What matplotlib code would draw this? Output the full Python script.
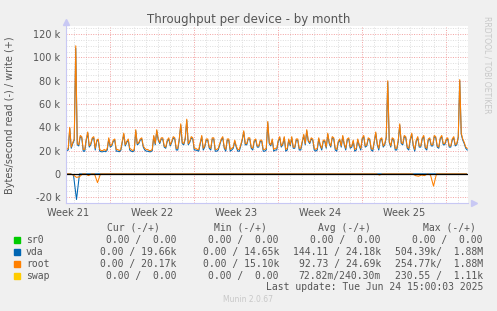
import pandas as pd
import matplotlib
matplotlib.use("Agg")
import matplotlib.pyplot as plt
import matplotlib.dates as mdates
from matplotlib.ticker import MultipleLocator, FuncFormatter
from matplotlib.transforms import blended_transform_factory

# Throughput samples, values in kB/s
start = "2025-05-22 08:00"
end = "2025-06-24 20:00"

# write side, 3-hour steps (8 per day)
root_write = [
    21, 22, 40, 23, 27, 30, 110, 26,  25, 33, 32, 21, 21, 30, 36, 24,
    26, 31, 32, 22, 29, 30, 21, 20,  20, 21, 20, 22, 31, 24, 25, 29,
    30, 21, 21, 20, 21, 28, 35, 25,  28, 30, 22, 21, 20, 21, 38, 26,
    27, 30, 31, 24, 22, 21, 21, 20,  20, 21, 33, 26, 38, 30, 27, 31,
    31, 24, 23, 29, 31, 25, 28, 32,  31, 22, 22, 30, 43, 27, 26, 31,
    47, 26, 28, 32, 31, 22, 22, 21,  21, 27, 33, 22, 24, 30, 30, 23,
    22, 31, 31, 21, 21, 22, 26, 30,  32, 23, 21, 30, 30, 21, 22, 23,
    29, 24, 21, 21, 25, 30, 37, 26,  26, 31, 31, 23, 22, 29, 30, 24,
    24, 29, 29, 21, 21, 22, 45, 27,  25, 30, 21, 22, 22, 29, 32, 24,
    26, 32, 21, 22, 30, 25, 32, 23,  23, 30, 30, 22, 22, 28, 34, 26,
    38, 29, 27, 31, 30, 22, 21, 22,  31, 25, 22, 29, 29, 23, 35, 27,
    24, 32, 31, 22, 21, 28, 30, 24,  33, 26, 22, 30, 31, 23, 24, 29,
    21, 22, 30, 25, 22, 31, 33, 24,  25, 31, 30, 22, 21, 28, 36, 26,
    22, 30, 31, 24, 26, 32, 80, 28,  24, 31, 30, 22, 22, 29, 43, 27,
    26, 33, 32, 23, 22, 30, 35, 25,  21, 29, 32, 24, 24, 31, 33, 23,
    22, 30, 31, 25, 25, 33, 32, 24,  23, 31, 33, 26, 26, 30, 31, 24,
    24, 30, 32, 25, 26, 32, 81, 35,  30, 27, 23, 22,
]
vda_write = [
    20, 20.5, 39, 22, 26, 29, 108, 25,  24, 32, 31, 19.5, 19.5, 29, 35, 23,
    25, 30, 31, 20.5, 28, 29, 19.5, 19,  19, 19.5, 19, 20.5, 30, 23, 24, 28,
    29, 19.5, 19.5, 19, 20, 27, 34, 24,  27, 29, 20.5, 19.5, 19, 20, 37, 25,
    26, 29, 30, 23, 20.5, 19.5, 19.5, 19,  19, 20, 32, 25, 37, 29, 26, 30,
    30, 23, 22, 28, 30, 24, 27, 31,  30, 20.5, 20.5, 29, 42, 26, 25, 30,
    46, 25, 27, 31, 30, 20.5, 20.5, 20,  19.5, 26, 32, 20.5, 23, 29, 29, 22,
    20.5, 30, 30, 19.5, 19.5, 20.5, 25, 29,  31, 22, 19.5, 29, 29, 19.5, 20.5, 22,
    28, 23, 19.5, 19.5, 24, 29, 36, 25,  25, 30, 30, 22, 20.5, 28, 29, 23,
    23, 28, 28, 19.5, 19.5, 20.5, 44, 26,  24, 29, 19.5, 20.5, 20.5, 28, 31, 23,
    25, 31, 19.5, 20.5, 29, 24, 31, 22,  22, 29, 29, 20.5, 20.5, 27, 33, 25,
    37, 28, 26, 30, 29, 20.5, 19.5, 20.5,  30, 24, 20.5, 28, 28, 22, 34, 26,
    23, 31, 30, 20.5, 19.5, 27, 29, 23,  32, 25, 20.5, 29, 30, 22, 23, 28,
    19.5, 20.5, 29, 24, 20.5, 30, 32, 23,  24, 30, 29, 20.5, 19.5, 27, 35, 25,
    20.5, 29, 30, 23, 25, 31, 79, 27,  23, 30, 29, 20.5, 20.5, 28, 42, 26,
    25, 32, 31, 22, 20.5, 29, 34, 24,  19.5, 28, 31, 23, 23, 30, 32, 22,
    20.5, 29, 30, 24, 24, 32, 31, 23,  22, 30, 32, 25, 25, 29, 30, 23,
    23, 29, 31, 24, 25, 31, 80, 34,  29, 26, 22, 20.5,
]
# read side, 6-hour steps (4 per day), drawn negative
root_read = [
    0, 0, -1, -3,  -2.5, 0, 0, -1.5,  0, 0, -7.5, 0,  0, 0, 0, 0,
    0, 0, 0, 0,  0, 0, 0, 0,  0, 0, 0, 0,  0, 0, 0, 0,
    0, 0, 0, 0,  0, 0, 0, 0,  0, 0, 0, 0,  0, 0, 0, 0,
    0, 0, 0, 0,  0, 0, 0, 0,  0, 0, 0, 0,  0, 0, 0, 0,
    0, 0, 0, 0,  0, 0, 0, 0,  0, 0, 0, 0,  0, 0, 0, 0,
    0, 0, 0, 0,  0, 0, 0, 0,  0, 0, 0, 0,  0, 0, 0, 0,
    0, 0, 0, 0,  0, 0, 0, 0,  -1, 0, 0, 0,  0, 0, 0, 0,
    0, 0, 0, 0,  -1.5, -2, -1, -1.5,  0, -1, -10.5, 0,  0, 0, 0, 0,
    0, 0, 0, 0,  0, 0,
]
vda_read = [
    0, 0, -1, -22,  0, 0, 0, 0,  0, 0, 0, 0,  0, 0, 0, 0,
    0, 0, 0, 0,  0, 0, 0, 0,  0, 0, 0, 0,  0, 0, 0, 0,
    0, 0, 0, 0,  0, 0, 0, 0,  0, 0, 0, 0,  0, 0, 0, 0,
    0, 0, 0, 0,  0, 0, 0, 0,  0, 0, 0, 0,  0, 0, 0, 0,
    0, 0, 0, 0,  0, 0, 0, 0,  0, 0, 0, 0,  0, 0, 0, 0,
    0, 0, 0, 0,  0, 0, 0, 0,  0, 0, 0, 0,  0, 0, 0, 0,
    0, 0, 0, 0,  0, 0, 0, 0,  0, 0, 0, 0,  0, 0, 0, 0,
    0, 0, 0, 0,  0, 0, 0, 0,  0, 0, 0, 0,  0, 0, 0, 0,
    0, 0, 0, 0,  0, 0,
]

devices = ["sr0", "vda", "root", "swap"]
colors = ["#00CC00", "#0066B3", "#FF8000", "#FFCC00"]
cur = ["0.00 /  0.00", "0.00 / 19.66k", "0.00 / 20.17k", "0.00 /  0.00"]
mins = ["0.00 /  0.00", "0.00 / 14.65k", "0.00 / 15.10k", "0.00 /  0.00"]
avgs = ["0.00 /  0.00", "144.11 / 24.18k", "92.73 / 24.69k", "72.82m/240.30m"]
maxs = ["0.00 /  0.00", "504.39k/  1.88M", "254.77k/  1.88M", "230.55 /  1.11k"]

t0 = pd.Timestamp(start)
t_write = pd.date_range(t0 + pd.Timedelta(minutes=90), periods=len(root_write), freq="3h")
t_read = pd.date_range(t0 + pd.Timedelta(hours=3), periods=len(root_read), freq="6h")

fig = plt.figure(figsize=(4.97, 3.11), dpi=100, facecolor="#F0F0F0")
ax = fig.add_axes([66 / 497, 1 - 203 / 311, 402 / 497, 177 / 311], facecolor="white")

ax.plot(t_write, [v * 1000 for v in vda_write], color=colors[1], lw=0.75)
ax.plot(t_read, [v * 1000 for v in vda_read], color=colors[1], lw=0.75)
ax.plot(t_write, [v * 1000 for v in root_write], color=colors[2], lw=0.75)
ax.plot(t_read, [v * 1000 for v in root_read], color=colors[2], lw=0.75)
ax.axhline(0, color="black", lw=0.9)

ax.set_xlim(t0, pd.Timestamp(end))
ax.set_ylim(-25000, 127000)

ax.yaxis.set_major_locator(MultipleLocator(20000))
ax.yaxis.set_minor_locator(MultipleLocator(5000))
ax.yaxis.set_major_formatter(FuncFormatter(lambda v, p: "0" if v == 0 else f"{v / 1000:.0f} k"))
ax.xaxis.set_major_locator(mdates.WeekdayLocator(byweekday=mdates.MO))
ax.xaxis.set_minor_locator(mdates.DayLocator())
ax.xaxis.set_major_formatter(FuncFormatter(lambda v, p: ""))

ax.grid(which="minor", color="#DDDDDD", ls=(0, (1, 1.5)), lw=0.7)
ax.grid(which="major", color="#F2A0A0", ls=(0, (1, 1.5)), lw=0.7)
ax.set_axisbelow(True)
ax.tick_params(which="both", length=0, labelsize=7, colors="#555555", pad=4)

for s in ["top", "right"]:
    ax.spines[s].set_visible(False)
for s in ["left", "bottom"]:
    ax.spines[s].set_color("#C8C8F4")
ax.plot([0], [1.02], marker="^", ms=4, color="#C8C8F4", transform=ax.transAxes, clip_on=False)
ax.plot([1.015], [0], marker=">", ms=4, color="#C8C8F4", transform=ax.transAxes, clip_on=False)

# week labels centered on each week
trans = blended_transform_factory(ax.transData, ax.transAxes)
for monday in pd.date_range("2025-05-19", "2025-06-16", freq="W-MON"):
    mid = monday + pd.Timedelta(hours=84)
    ax.text(mdates.date2num(mid), -0.03, "Week " + monday.strftime("%V"), transform=trans,
            ha="center", va="top", fontsize=7, color="#555555")

fig.text(0.5, 1 - 19 / 311, "Throughput per device - by month", ha="center", va="center",
         fontsize=8.5, color="#555555")
fig.text(10 / 497, 1 - 115 / 311, "Bytes/second read (-) / write (+)", rotation=90,
         ha="center", va="center", fontsize=7, color="#555555")
fig.text(487 / 497, 1 - 16 / 311, "RRDTOOL / TOBI OETIKER", rotation=270, ha="center", va="top",
         fontsize=5.5, color="#C8C8C8")

mono = dict(family="DejaVu Sans Mono", fontsize=7, color="#555555", va="center")
headers = ["Cur (-/+)", "Min (-/+)", "Avg (-/+)", "Max (-/+)"]
col_right = [176, 279, 381, 483]
for h, xr in zip(headers, [160, 267, 371, 476]):
    fig.text(xr / 497, 1 - 228 / 311, h, ha="right", **mono)
for i, name in enumerate(devices):
    y = 1 - (240 + 11.9 * i) / 311
    fig.patches.append(plt.Rectangle((14 / 497, y - 3 / 311), 6 / 497, 6 / 311,
                                     transform=fig.transFigure, color=colors[i]))
    fig.text(26 / 497, y, name, ha="left", **mono)
    for col, xr in zip([cur, mins, avgs, maxs], col_right):
        fig.text(xr / 497, y, col[i], ha="right", **mono)
fig.text(483 / 497, 1 - 287.5 / 311, "Last update: Tue Jun 24 15:00:03 2025", ha="right", **mono)
fig.text(248 / 497, 1 - 300 / 311, "Munin 2.0.67", ha="center", va="center", fontsize=5.5, color="#C8C8C8")

fig.savefig("out.png", dpi=100, facecolor=fig.get_facecolor())
